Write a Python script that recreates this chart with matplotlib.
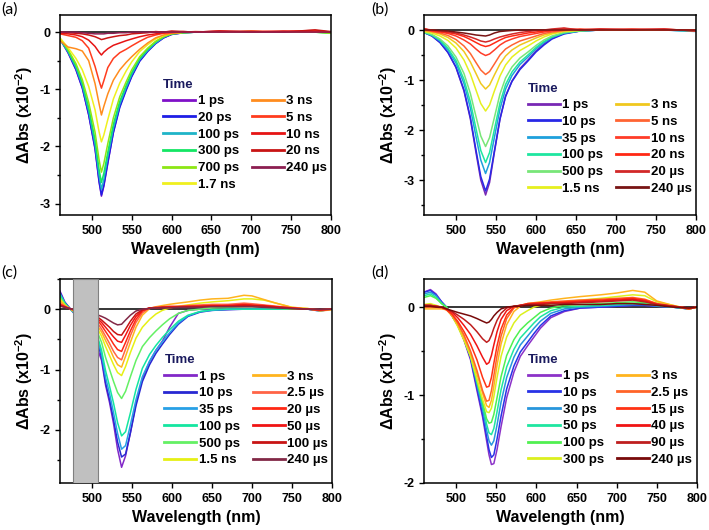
#transient absorption spectra, 4 panels (a)-(d)

import numpy as np
import matplotlib
matplotlib.use('Agg')
import matplotlib.pyplot as plt
from matplotlib.ticker import MultipleLocator

plt.rcParams['font.family'] = ['Liberation Sans', 'DejaVu Sans']
plt.rcParams['font.weight'] = 'bold'
plt.rcParams['axes.unicode_minus'] = False
plt.rcParams['mathtext.fontset'] = 'custom'
plt.rcParams['mathtext.bf'] = 'Liberation Sans:bold'
plt.rcParams['mathtext.rm'] = 'Liberation Sans:bold'
plt.rcParams['mathtext.default'] = 'bf'

# ---------------- panel (a) ----------------
wl_a = [460, 470, 480, 488, 496, 504, 509, 512, 515, 520, 527, 535, 543, 550, 560,
        570, 580, 590, 600, 615, 630, 660, 700, 740, 780, 800]
labels_a = ['1 ps', '20 ps', '100 ps', '300 ps', '700 ps', '1.7 ns',
            '3 ns', '5 ns', '10 ns', '20 ns', '240 \u00b5s']
colors_a = ['#7f10c8', '#1e1ee6', '#1fb4c8', '#14e664', '#8ce614', '#f0f01e',
            '#ff8c1e', '#ff3c1e', '#e61414', '#c81414', '#8c1e50']
a_1ps = [-0.12, -0.36, -0.66, -0.98, -1.45, -2.05, -2.62, -2.87, -2.7, -2.3, -1.75, -1.3, -1.0,
         -0.77, -0.5, -0.33, -0.2, -0.1, -0.04, -0.01, 0, 0, 0, 0, 0, 0]
a_20ps = [-0.12, -0.35, -0.65, -0.97, -1.44, -2.03, -2.6, -2.85, -2.68, -2.28, -1.76, -1.32, -1.02,
          -0.78, -0.51, -0.34, -0.2, -0.1, -0.04, -0.01, 0, 0, 0, 0, 0, 0]
a_100ps = [-0.13, -0.34, -0.62, -0.93, -1.38, -1.96, -2.5, -2.75, -2.58, -2.18, -1.68, -1.26, -0.97,
           -0.74, -0.48, -0.32, -0.19, -0.09, -0.03, -0.01, 0, 0, 0.01, 0, 0, -0.01]
a_300ps = [-0.12, -0.32, -0.59, -0.89, -1.32, -1.88, -2.4, -2.63, -2.47, -2.1, -1.61, -1.21, -0.93,
           -0.71, -0.46, -0.3, -0.17, -0.08, -0.03, -0.01, 0, 0, 0, 0.01, 0, -0.02]
a_700ps = [-0.11, -0.3, -0.55, -0.83, -1.23, -1.75, -2.23, -2.45, -2.3, -1.95, -1.5, -1.13, -0.87,
           -0.66, -0.43, -0.28, -0.16, -0.08, -0.03, -0.01, 0, 0, 0.01, 0, 0, -0.02]
a_1p7ns = [-0.1, -0.27, -0.46, -0.66, -0.95, -1.36, -1.74, -1.92, -1.8, -1.53, -1.17, -0.89, -0.68,
           -0.52, -0.34, -0.22, -0.12, -0.06, -0.02, 0, 0, 0, 0.01, 0, 0.01, 0]
a_3ns = [-0.15, -0.26, -0.29, -0.33, -0.5, -0.9, -1.25, -1.45, -1.3, -1.08, -0.84, -0.66, -0.53,
         -0.43, -0.3, -0.19, -0.1, -0.05, -0.02, 0, 0, 0, 0.01, 0, 0.01, 0]
a_5ns = [-0.03, -0.06, -0.09, -0.15, -0.28, -0.6, -0.85, -0.98, -0.85, -0.62, -0.46, -0.36, -0.3,
         -0.24, -0.16, -0.09, -0.05, -0.02, -0.01, 0, 0.01, 0, 0.02, 0.01, 0.03, 0]
a_10ns = [-0.02, -0.03, -0.05, -0.08, -0.14, -0.25, -0.35, -0.4, -0.35, -0.29, -0.23, -0.19, -0.15,
          -0.12, -0.08, -0.05, -0.03, -0.01, 0, 0.01, 0, 0.02, 0, 0.02, 0.01, 0]
a_20ns = [0, -0.01, -0.02, -0.03, -0.05, -0.08, -0.11, -0.13, -0.12, -0.1, -0.08, -0.06, -0.05,
          -0.03, -0.02, -0.01, 0.01, 0, 0.02, 0.01, 0, 0.02, 0.01, 0, 0.04, 0.01]
a_240us = [0, 0, 0, -0.01, -0.02, -0.03, -0.03, -0.03, -0.03, -0.02, -0.02, -0.01, -0.01,
           0, 0, 0, 0, 0, 0, 0, 0, 0, 0, 0, 0, 0]
spectra_a = [a_1ps, a_20ps, a_100ps, a_300ps, a_700ps, a_1p7ns,
             a_3ns, a_5ns, a_10ns, a_20ns, a_240us]

# ---------------- panel (b) ----------------
wl_b = [460, 470, 480, 490, 500, 510, 518, 525, 531, 537, 542, 548, 555, 562, 570,
        580, 590, 600, 610, 620, 635, 655, 680, 720, 760, 800]
labels_b = ['1 ps', '10 ps', '35 ps', '100 ps', '500 ps', '1.5 ns',
            '3 ns', '5 ns', '10 ns', '20 ns', '20 \u00b5s', '240 \u00b5s']
colors_b = ['#7828b4', '#2828e6', '#1ea0dc', '#1ee6a0', '#78e678', '#e6f01e',
            '#f0c81e', '#ff6432', '#ff3c28', '#ff2814', '#d22828', '#781414']
b_1ps = [-0.05, -0.12, -0.25, -0.45, -0.75, -1.22, -1.78, -2.45, -3.0, -3.3, -3.05, -2.45, -1.78,
         -1.32, -1.02, -0.77, -0.6, -0.42, -0.28, -0.17, -0.07, -0.02, 0, 0, 0, 0]
b_10ps = [-0.05, -0.12, -0.25, -0.45, -0.74, -1.2, -1.75, -2.4, -2.93, -3.22, -2.98, -2.42, -1.78,
          -1.33, -1.03, -0.79, -0.62, -0.44, -0.3, -0.18, -0.08, -0.02, 0, 0, 0, -0.02]
b_35ps = [-0.05, -0.11, -0.22, -0.4, -0.66, -1.07, -1.56, -2.13, -2.6, -2.87, -2.65, -2.15, -1.58,
          -1.18, -0.91, -0.69, -0.54, -0.38, -0.25, -0.15, -0.06, -0.02, 0, 0, 0, -0.03]
b_100ps = [-0.05, -0.1, -0.2, -0.37, -0.61, -0.99, -1.44, -1.97, -2.41, -2.65, -2.45, -1.99, -1.46,
           -1.09, -0.84, -0.64, -0.5, -0.35, -0.23, -0.14, -0.06, -0.02, 0, 0, 0, -0.02]
b_500ps = [-0.04, -0.09, -0.18, -0.32, -0.54, -0.87, -1.27, -1.73, -2.12, -2.33, -2.15, -1.75, -1.28,
           -0.96, -0.74, -0.56, -0.44, -0.31, -0.2, -0.12, -0.05, -0.01, 0, 0, 0, -0.01]
b_1p5ns = [-0.03, -0.06, -0.12, -0.21, -0.36, -0.6, -0.88, -1.2, -1.47, -1.62, -1.5, -1.22, -0.92,
           -0.7, -0.54, -0.41, -0.32, -0.22, -0.14, -0.08, -0.03, -0.01, 0, 0, 0, 0]
b_3ns = [-0.02, -0.04, -0.08, -0.15, -0.26, -0.43, -0.64, -0.87, -1.07, -1.18, -1.1, -0.9, -0.68,
         -0.52, -0.4, -0.3, -0.23, -0.16, -0.1, -0.06, -0.02, 0, 0, 0, 0, 0]
b_5ns = [0, -0.03, -0.06, -0.11, -0.19, -0.32, -0.47, -0.65, -0.8, -0.89, -0.83, -0.68, -0.5,
         -0.38, -0.3, -0.22, -0.17, -0.12, -0.07, -0.04, -0.01, 0.01, 0, 0.01, 0, 0]
b_10ns = [0.03, -0.02, -0.04, -0.07, -0.12, -0.2, -0.28, -0.38, -0.46, -0.51, -0.48, -0.4, -0.3,
          -0.23, -0.18, -0.13, -0.1, -0.07, -0.04, -0.02, 0, 0.02, 0, 0.02, 0, 0]
b_20ns = [0.02, -0.01, -0.03, -0.05, -0.08, -0.13, -0.19, -0.25, -0.3, -0.33, -0.31, -0.26, -0.2,
          -0.15, -0.12, -0.09, -0.06, -0.04, -0.02, 0, 0.03, 0, 0.02, 0, 0.02, -0.02]
b_20us = [0.02, 0, -0.02, -0.04, -0.06, -0.1, -0.14, -0.18, -0.22, -0.24, -0.22, -0.18, -0.14,
          -0.11, -0.08, -0.05, -0.03, -0.01, 0, 0.02, 0.04, 0, 0.02, 0.01, 0.02, -0.02]
b_240us = [0, 0, -0.01, -0.02, -0.04, -0.06, -0.08, -0.1, -0.11, -0.12, -0.1, -0.06, -0.03,
           -0.02, -0.01, 0, 0, 0, 0, 0, 0, 0, 0, 0, 0, 0]
spectra_b = [b_1ps, b_10ps, b_35ps, b_100ps, b_500ps, b_1p5ns,
             b_3ns, b_5ns, b_10ns, b_20ns, b_20us, b_240us]

# ---------------- panel (c) ----------------
wl_c = [460, 466, 472, 476, 508, 512, 517, 522, 527, 532, 537, 542, 548, 555, 563, 572,
        580, 588, 597, 608, 620, 635, 650, 670, 690, 700, 715, 730, 750, 770, 785, 800]
labels_c = ['1 ps', '10 ps', '35 ps', '100 ps', '500 ps', '1.5 ns',
            '3 ns', '2.5 \u00b5s', '20 \u00b5s', '50 \u00b5s', '100 \u00b5s', '240 \u00b5s']
colors_c = ['#8228c8', '#2828d2', '#28a0e6', '#14e6a0', '#64f064', '#e6f014',
            '#ffb41e', '#ff6446', '#ff2814', '#f01414', '#c81414', '#822846']
c_1ps = [0.3, 0.12, 0.02, -0.04, -0.7, -0.85, -1.26, -1.55, -1.9, -2.32, -2.62, -2.43, -2.05, -1.56,
         -1.15, -0.87, -0.68, -0.53, -0.3, -0.07, -0.02, 0, 0, 0, 0, 0, 0, 0, 0, 0, -0.02, 0]
c_10ps = [0.28, 0.11, 0.02, -0.04, -0.6, -0.8, -1.22, -1.5, -1.83, -2.2, -2.45, -2.4, -2.05, -1.6,
          -1.2, -0.92, -0.73, -0.58, -0.42, -0.25, -0.12, -0.05, -0.02, -0.01, 0, 0, 0, 0, 0, 0, -0.03, 0]
c_35ps = [0.26, 0.1, 0.01, -0.04, -0.55, -0.75, -1.13, -1.4, -1.72, -2.06, -2.32, -2.26, -1.92, -1.5,
          -1.12, -0.86, -0.68, -0.54, -0.39, -0.23, -0.11, -0.04, -0.02, 0, 0, 0, 0, 0, 0, 0, -0.03, 0]
c_100ps = [0.24, 0.1, 0.01, -0.03, -0.5, -0.68, -1.02, -1.28, -1.56, -1.88, -2.1, -2.03, -1.72, -1.33,
           -0.98, -0.75, -0.6, -0.47, -0.34, -0.2, -0.1, -0.04, -0.01, 0, 0, 0, 0, 0, 0, 0, -0.02, 0]
c_500ps = [0.2, 0.08, 0.01, -0.03, -0.42, -0.55, -0.8, -1.0, -1.2, -1.38, -1.48, -1.36, -1.12, -0.85,
           -0.62, -0.47, -0.36, -0.26, -0.16, -0.07, -0.02, 0, 0.02, 0.03, 0.04, 0.04, 0.03, 0.02, 0, 0, -0.01, 0]
c_1p5ns = [0.17, 0.07, 0.01, -0.02, -0.35, -0.45, -0.62, -0.77, -0.92, -1.05, -1.1, -0.95, -0.72, -0.48,
           -0.3, -0.17, -0.08, -0.02, 0.02, 0.05, 0.07, 0.1, 0.12, 0.14, 0.17, 0.17, 0.15, 0.1, 0.03, 0.01, -0.02, 0]
c_3ns = [0.14, 0.06, 0.01, -0.02, -0.3, -0.38, -0.52, -0.65, -0.8, -0.92, -0.96, -0.78, -0.55, -0.3,
         -0.1, 0.01, 0.04, 0.06, 0.08, 0.1, 0.12, 0.15, 0.17, 0.18, 0.23, 0.22, 0.16, 0.1, 0.03, 0.01, -0.03, -0.01]
c_2p5us = [0.1, 0.05, 0.01, -0.01, -0.25, -0.33, -0.45, -0.57, -0.7, -0.8, -0.84, -0.66, -0.44, -0.22,
           -0.06, 0.02, 0.03, 0.04, 0.05, 0.05, 0.06, 0.07, 0.08, 0.08, 0.1, 0.09, 0.07, 0.05, 0.02, 0, -0.02, 0]
c_20us = [0.08, 0.04, 0.01, -0.01, -0.2, -0.27, -0.37, -0.47, -0.58, -0.67, -0.7, -0.55, -0.36, -0.17,
          -0.03, 0.02, 0.03, 0.03, 0.04, 0.04, 0.05, 0.05, 0.06, 0.06, 0.08, 0.07, 0.06, 0.04, 0.02, 0, -0.01, 0]
c_50us = [0.07, 0.04, 0.01, 0, -0.17, -0.22, -0.3, -0.38, -0.46, -0.53, -0.55, -0.43, -0.27, -0.12,
          -0.02, 0.02, 0.02, 0.03, 0.03, 0.04, 0.04, 0.05, 0.05, 0.06, 0.07, 0.06, 0.05, 0.04, 0.02, 0, -0.01, 0]
c_100us = [0.06, 0.03, 0.01, 0, -0.14, -0.18, -0.24, -0.3, -0.37, -0.42, -0.43, -0.33, -0.2, -0.08,
           -0.01, 0.02, 0.02, 0.03, 0.03, 0.03, 0.04, 0.04, 0.05, 0.05, 0.06, 0.06, 0.05, 0.03, 0.01, 0, -0.01, 0]
c_240us = [0.05, 0.03, 0.01, 0, -0.1, -0.12, -0.15, -0.19, -0.23, -0.26, -0.25, -0.18, -0.1, -0.03,
           0, 0.01, 0.02, 0.02, 0.02, 0.03, 0.03, 0.03, 0.04, 0.04, 0.04, 0.04, 0.03, 0.02, 0.01, 0, 0, 0]
spectra_c = [c_1ps, c_10ps, c_35ps, c_100ps, c_500ps, c_1p5ns,
             c_3ns, c_2p5us, c_20us, c_50us, c_100us, c_240us]
blocked_c = (476, 508)

# ---------------- panel (d) ----------------
wl_d = [460, 468, 475, 482, 488, 495, 502, 510, 518, 526, 533, 538, 541, 544, 547, 551, 556,
        563, 572, 580, 589, 597, 605, 618, 635, 655, 680, 700, 720, 735, 750, 770, 790, 800]
labels_d = ['1 ps', '10 ps', '30 ps', '50 ps', '100 ps', '300 ps',
            '3 ns', '2.5 \u00b5s', '15 \u00b5s', '40 \u00b5s', '90 \u00b5s', '240 \u00b5s']
colors_d = ['#8c32c8', '#2832e6', '#2896dc', '#1ee6a0', '#50f050', '#dcf01e',
            '#ffb41e', '#ff6428', '#ff3214', '#f01414', '#be1e1e', '#780a0a']
d_1ps = [0.17, 0.2, 0.15, 0.06, 0, -0.1, -0.2, -0.38, -0.6, -0.95, -1.25, -1.52, -1.68, -1.79, -1.78,
         -1.62, -1.36, -1.03, -0.74, -0.56, -0.44, -0.34, -0.24, -0.12, -0.05, -0.01, 0, 0.01, 0.02,
         0.02, 0.01, 0, -0.02, 0]
d_10ps = [0.17, 0.19, 0.14, 0.06, 0, -0.1, -0.2, -0.37, -0.58, -0.92, -1.22, -1.47, -1.62, -1.71, -1.68,
          -1.5, -1.24, -0.93, -0.67, -0.51, -0.4, -0.3, -0.21, -0.1, -0.04, -0.01, 0, 0.01, 0.02,
          0.02, 0.01, 0, -0.02, 0]
d_30ps = [0.15, 0.17, 0.13, 0.05, 0, -0.1, -0.2, -0.36, -0.56, -0.88, -1.16, -1.4, -1.52, -1.57, -1.52,
          -1.34, -1.08, -0.8, -0.57, -0.43, -0.33, -0.24, -0.16, -0.07, -0.02, 0, 0.01, 0.02, 0.03,
          0.03, 0.01, 0, -0.02, 0]
d_50ps = [0.13, 0.15, 0.11, 0.04, 0, -0.1, -0.2, -0.36, -0.55, -0.85, -1.11, -1.33, -1.43, -1.45, -1.38,
          -1.19, -0.94, -0.68, -0.48, -0.35, -0.26, -0.18, -0.11, -0.04, 0, 0.01, 0.02, 0.03, 0.04,
          0.04, 0.02, 0, -0.02, 0]
d_100ps = [0.11, 0.13, 0.1, 0.04, 0, -0.1, -0.21, -0.37, -0.56, -0.84, -1.08, -1.27, -1.32, -1.31, -1.22,
           -1.03, -0.79, -0.55, -0.37, -0.26, -0.18, -0.12, -0.06, -0.01, 0.02, 0.03, 0.04, 0.05, 0.06,
           0.05, 0.03, 0.01, -0.02, 0]
d_300ps = [0.03, 0.04, 0.02, 0, -0.02, -0.1, -0.22, -0.38, -0.56, -0.82, -1.05, -1.19, -1.2, -1.15, -1.02,
           -0.8, -0.56, -0.34, -0.18, -0.09, -0.04, 0, 0.02, 0.04, 0.06, 0.08, 0.1, 0.12, 0.14,
           0.13, 0.06, 0.02, -0.02, 0]
d_3ns = [-0.02, -0.02, -0.02, -0.02, -0.03, -0.1, -0.2, -0.35, -0.52, -0.76, -0.98, -1.12, -1.14, -1.06,
         -0.9, -0.66, -0.42, -0.2, -0.05, 0.01, 0.04, 0.05, 0.06, 0.08, 0.1, 0.12, 0.14, 0.16, 0.19,
         0.17, 0.07, 0.02, -0.02, 0]
d_2p5us = [0, 0, 0, -0.01, -0.03, -0.09, -0.18, -0.32, -0.5, -0.72, -0.95, -1.07, -1.06, -0.95, -0.78,
           -0.55, -0.33, -0.13, -0.01, 0.02, 0.04, 0.05, 0.05, 0.06, 0.07, 0.08, 0.09, 0.1, 0.11,
           0.09, 0.04, 0.01, -0.02, 0]
d_15us = [0.02, 0.02, 0.01, 0, -0.03, -0.08, -0.16, -0.28, -0.42, -0.6, -0.8, -0.91, -0.9, -0.8, -0.64,
          -0.44, -0.25, -0.09, 0, 0.02, 0.04, 0.04, 0.05, 0.05, 0.06, 0.07, 0.08, 0.09, 0.1,
          0.08, 0.04, 0.01, -0.02, 0]
d_40us = [0.02, 0.02, 0.01, 0, -0.02, -0.06, -0.12, -0.21, -0.31, -0.44, -0.57, -0.65, -0.63, -0.55, -0.43,
          -0.28, -0.14, -0.04, 0.01, 0.02, 0.03, 0.04, 0.04, 0.05, 0.05, 0.06, 0.07, 0.08, 0.09,
          0.07, 0.03, 0.01, -0.01, 0]
d_90us = [0.02, 0.02, 0.01, 0, -0.02, -0.05, -0.09, -0.14, -0.2, -0.28, -0.36, -0.4, -0.38, -0.32, -0.24,
          -0.15, -0.07, -0.01, 0.01, 0.02, 0.03, 0.03, 0.03, 0.04, 0.04, 0.05, 0.06, 0.07, 0.08,
          0.06, 0.03, 0.01, -0.01, 0]
d_240us = [0.01, 0.01, 0, 0, -0.02, -0.04, -0.06, -0.08, -0.1, -0.13, -0.16, -0.18, -0.17, -0.14, -0.1,
           -0.06, -0.02, 0, 0.01, 0.01, 0.02, 0.02, 0.02, 0.02, 0.03, 0.03, 0.03, 0.04, 0.04,
           0.03, 0.02, 0, -0.01, 0]
spectra_d = [d_1ps, d_10ps, d_30ps, d_50ps, d_100ps, d_300ps,
             d_3ns, d_2p5us, d_15us, d_40us, d_90us, d_240us]

panels = [
    # tag, axes rect, wavelengths, spectra, labels, colors, ylim, yticks, legend anchor
    ('(a)', [0.0846, 0.5943, 0.3822, 0.3774], wl_a, spectra_a, labels_a, colors_a,
     (-3.2, 0.3), [-3, -2, -1, 0], (0.357, 0.715)),
    ('(b)', [0.598, 0.5943, 0.3836, 0.3774], wl_b, spectra_b, labels_b, colors_b,
     (-3.7, 0.3), [-3, -2, -1, 0], (0.358, 0.695)),
    ('(c)', [0.0846, 0.0887, 0.3836, 0.3849], wl_c, spectra_c, labels_c, colors_c,
     (-2.88, 0.5), [-2, -1, 0], (0.36, 0.665)),
    ('(d)', [0.598, 0.0887, 0.385, 0.3849], wl_d, spectra_d, labels_d, colors_d,
     (-2.0, 0.32), [-2, -1, 0], (0.358, 0.667)),
]
tag_pos = {'(a)': (0.002, 0.995), '(b)': (0.523, 0.995),
           '(c)': (0.002, 0.499), '(d)': (0.523, 0.499)}

fig = plt.figure(figsize=(7.09, 5.30), dpi=100)

for tag, rect, wl, spectra, labels, colors, ylim, yticks, anchor in panels:
    ax = fig.add_axes(rect)
    ax.axhline(0, color='black', lw=1.1, zorder=1)
    for y, lab, col in zip(spectra, labels, colors):
        ax.plot(wl, y, color=col, lw=1.1, label=lab, zorder=2)
    if tag == '(c)':
        ax.axvspan(blocked_c[0], blocked_c[1], facecolor='#c0c0c0',
                   edgecolor='#808080', lw=0.8, zorder=3)

    ax.set_xlim(460, 800)
    ax.set_ylim(*ylim)
    ax.set_xticks([500, 550, 600, 650, 700, 750, 800])
    ax.set_yticks(yticks)
    ax.yaxis.set_minor_locator(MultipleLocator(0.5))
    ax.tick_params(axis='both', which='major', direction='out', length=3.5, width=1,
                   labelsize=9)
    ax.tick_params(axis='y', which='minor', direction='out', length=2.5, width=1)
    for s in ax.spines.values():
        s.set_linewidth(1.1)
    for t in ax.get_xticklabels() + ax.get_yticklabels():
        t.set_fontweight('bold')

    ax.set_xlabel('Wavelength (nm)', fontsize=11.5, fontweight='bold', labelpad=4)
    ax.set_ylabel('\u0394Abs (x10$^{-2}$)', fontsize=11.5, fontweight='bold', labelpad=3)

    leg = ax.legend(ncol=2, loc='upper left', bbox_to_anchor=anchor, frameon=False,
                    title='Time', alignment='left', borderpad=0,
                    prop={'size': 9.5, 'weight': 'bold'},
                    handlelength=2.4, handletextpad=0.2, labelspacing=0.34,
                    columnspacing=1.0)
    leg.get_title().set_fontsize(9.5)
    leg.get_title().set_fontweight('bold')
    leg.get_title().set_color('#1a1a5e')
    for h in leg.get_lines():
        h.set_linewidth(2.0)

    fig.text(tag_pos[tag][0], tag_pos[tag][1], tag, fontsize=11.5,
             family='Lato', fontweight='normal', va='top', ha='left')

plt.savefig('out.png', dpi=100)
